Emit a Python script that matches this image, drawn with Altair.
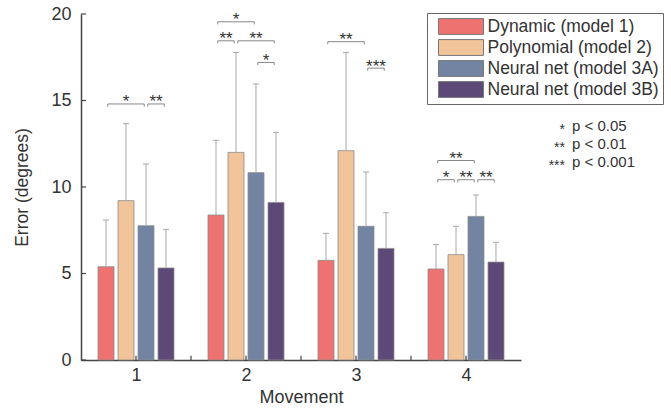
import altair as alt
import pandas as pd

# ---- data ----
groups = [1, 2, 3, 4]
models = ["Dynamic (model 1)", "Polynomial (model 2)",
          "Neural net (model 3A)", "Neural net (model 3B)"]
colors = ["#EE7370", "#F2C499", "#7284A2", "#5C4977"]

means = {
    1: [5.39, 9.21, 7.76, 5.32],
    2: [8.38, 12.00, 10.83, 9.11],
    3: [5.76, 12.10, 7.73, 6.45],
    4: [5.26, 6.09, 8.30, 5.66],
}
uppers = {
    1: [8.09, 13.66, 11.33, 7.55],
    2: [12.70, 17.78, 15.95, 13.16],
    3: [7.32, 17.78, 10.87, 8.51],
    4: [6.67, 7.73, 9.54, 6.80],
}

# significance brackets: group, from model, to model, level, label
br_group = [1, 1, 2, 2, 2, 2, 3, 3, 4, 4, 4, 4]
br_from = [0, 2, 0, 0, 1, 2, 0, 2, 0, 0, 1, 2]
br_to = [2, 3, 2, 1, 3, 3, 2, 3, 2, 1, 2, 3]
br_level = [14.8, 14.8, 19.55, 18.45, 18.45, 17.2, 18.4, 16.87, 11.53, 10.42, 10.42, 10.42]
br_label = ["*", "**", "*", "**", "**", "*", "**", "***", "**", "*", "**", "**"]

key_stars = ["*", "**", "***"]
key_text = ["p < 0.05", "p < 0.01", "p < 0.001"]
key_y = [13.55, 12.5, 11.45]

y_ticks = [0, 5, 10, 15, 20]
x_ticks = [1, 1.5, 2, 2.5, 3, 3.5, 4]

# ---- layout constants (styling) ----
step = 0.1818
half_w = 0.0727
cap = 0.027
inset = 0.016
FONT = "Liberation Sans"
TXT = "#333333"

rows = []
for g in groups:
    for k, m in enumerate(models):
        xc = g + (k - 1.5) * step
        rows.append(dict(group=g, model=m, xc=xc, x1=xc - half_w, x2=xc + half_w,
                         c1=xc - cap, c2=xc + cap,
                         mean=means[g][k], upper=uppers[g][k], zero=0))
bars = pd.DataFrame(rows)

brs = []
for g, a, b, lv, lb in zip(br_group, br_from, br_to, br_level, br_label):
    xa = g + (a - 1.5) * step + inset
    xb = g + (b - 1.5) * step - inset
    brs.append(dict(xa=xa, xb=xb, mid=(xa + xb) / 2, level=lv, low=lv - 0.15, label=lb))
brdf = pd.DataFrame(brs)

key = pd.DataFrame(dict(stars=key_stars, text=key_text, y=key_y, xs=4.9, xt=4.964))
ytk = pd.DataFrame(dict(y=y_ticks, xa=0.5, xb=0.545))
xtk = pd.DataFrame(dict(x=x_ticks, ya=0, yb=0.25))

xscale = alt.Scale(domain=[0.5, 4.5], nice=False, zero=False)
yscale = alt.Scale(domain=[0, 20], nice=False, zero=True)
xaxis = alt.Axis(values=[1, 2, 3, 4], format="d", ticks=False, grid=False,
                 labelPadding=6, labelFontSize=18, titleFontSize=18, titlePadding=4)
yaxis = alt.Axis(values=y_ticks, ticks=False, grid=False, labelPadding=10,
                 labelFontSize=18, titleFontSize=17.5, titlePadding=19)


def X(f):
    return alt.X(f, type="quantitative", scale=xscale, axis=xaxis, title="Movement")


def Y(f):
    return alt.Y(f, type="quantitative", scale=yscale, axis=yaxis, title="Error (degrees)")


xt_layer = alt.Chart(xtk).mark_rule(color="#444", strokeWidth=1.2).encode(
    x=X("x"), y=Y("ya"), y2="yb")
yt_layer = alt.Chart(ytk).mark_rule(color="#444", strokeWidth=1.2).encode(
    y=Y("y"), x=X("xa"), x2="xb")

bar_layer = alt.Chart(bars).mark_rect(stroke="#8a8a8a", strokeWidth=0.8).encode(
    x=X("x1"), x2="x2", y=Y("mean"), y2="zero",
    color=alt.Color("model:N", scale=alt.Scale(domain=models, range=colors),
                    legend=alt.Legend(
                        title=None, orient="none", legendX=346, legendY=-1,
                        symbolType="M-2.5,-0.88H2.5V0.88H-2.5Z", symbolSize=324,
                        symbolOffset=20.5, labelOffset=17,
                        symbolStrokeColor="#777", symbolStrokeWidth=1,
                        labelFontSize=17.5, labelFont=FONT, labelColor=TXT,
                        fillColor="white", strokeColor="#666", padding=4,
                        rowPadding=0, labelLimit=400)))

err_layer = alt.Chart(bars).mark_rule(color="#a8a8a8", strokeWidth=1).encode(
    x=X("xc"), y=Y("mean"), y2="upper")
cap_layer = alt.Chart(bars).mark_rule(color="#a8a8a8", strokeWidth=1).encode(
    x=X("c1"), x2="c2", y=Y("upper"))

br_h = alt.Chart(brdf).mark_rule(color="#888", strokeWidth=1).encode(
    x=X("xa"), x2="xb", y=Y("level"))
br_l = alt.Chart(brdf).mark_rule(color="#888", strokeWidth=1).encode(
    x=X("xa"), y=Y("level"), y2="low")
br_r = alt.Chart(brdf).mark_rule(color="#888", strokeWidth=1).encode(
    x=X("xb"), y=Y("level"), y2="low")
br_t = alt.Chart(brdf).mark_text(fontSize=17, font=FONT, color=TXT,
                                 baseline="alphabetic", dy=3.5).encode(
    x=X("mid"), y=Y("level"), text="label")

key_s = alt.Chart(key).mark_text(fontSize=14, font=FONT, color=TXT, align="right",
                                 baseline="middle", dy=4).encode(
    x=X("xs"), y=Y("y"), text="stars")
key_t = alt.Chart(key).mark_text(fontSize=15, font=FONT, color=TXT, align="left",
                                 baseline="middle").encode(
    x=X("xt"), y=Y("y"), text="text")

chart = alt.layer(xt_layer, yt_layer, bar_layer, err_layer, cap_layer,
                  br_h, br_l, br_r, br_t, key_s, key_t).properties(
    width=440, height=346,
    autosize=alt.AutoSizeParams(type="none"),
    padding={"left": 81, "top": 14, "right": 150, "bottom": 48},
).configure_view(strokeWidth=0).configure_axis(
    domainColor="#444", domainWidth=1.5, labelColor=TXT, titleColor=TXT,
    labelFont=FONT, titleFont=FONT, titleFontWeight="normal"
)

chart.save("out.html", embed_options={"renderer": "svg", "actions": False})
